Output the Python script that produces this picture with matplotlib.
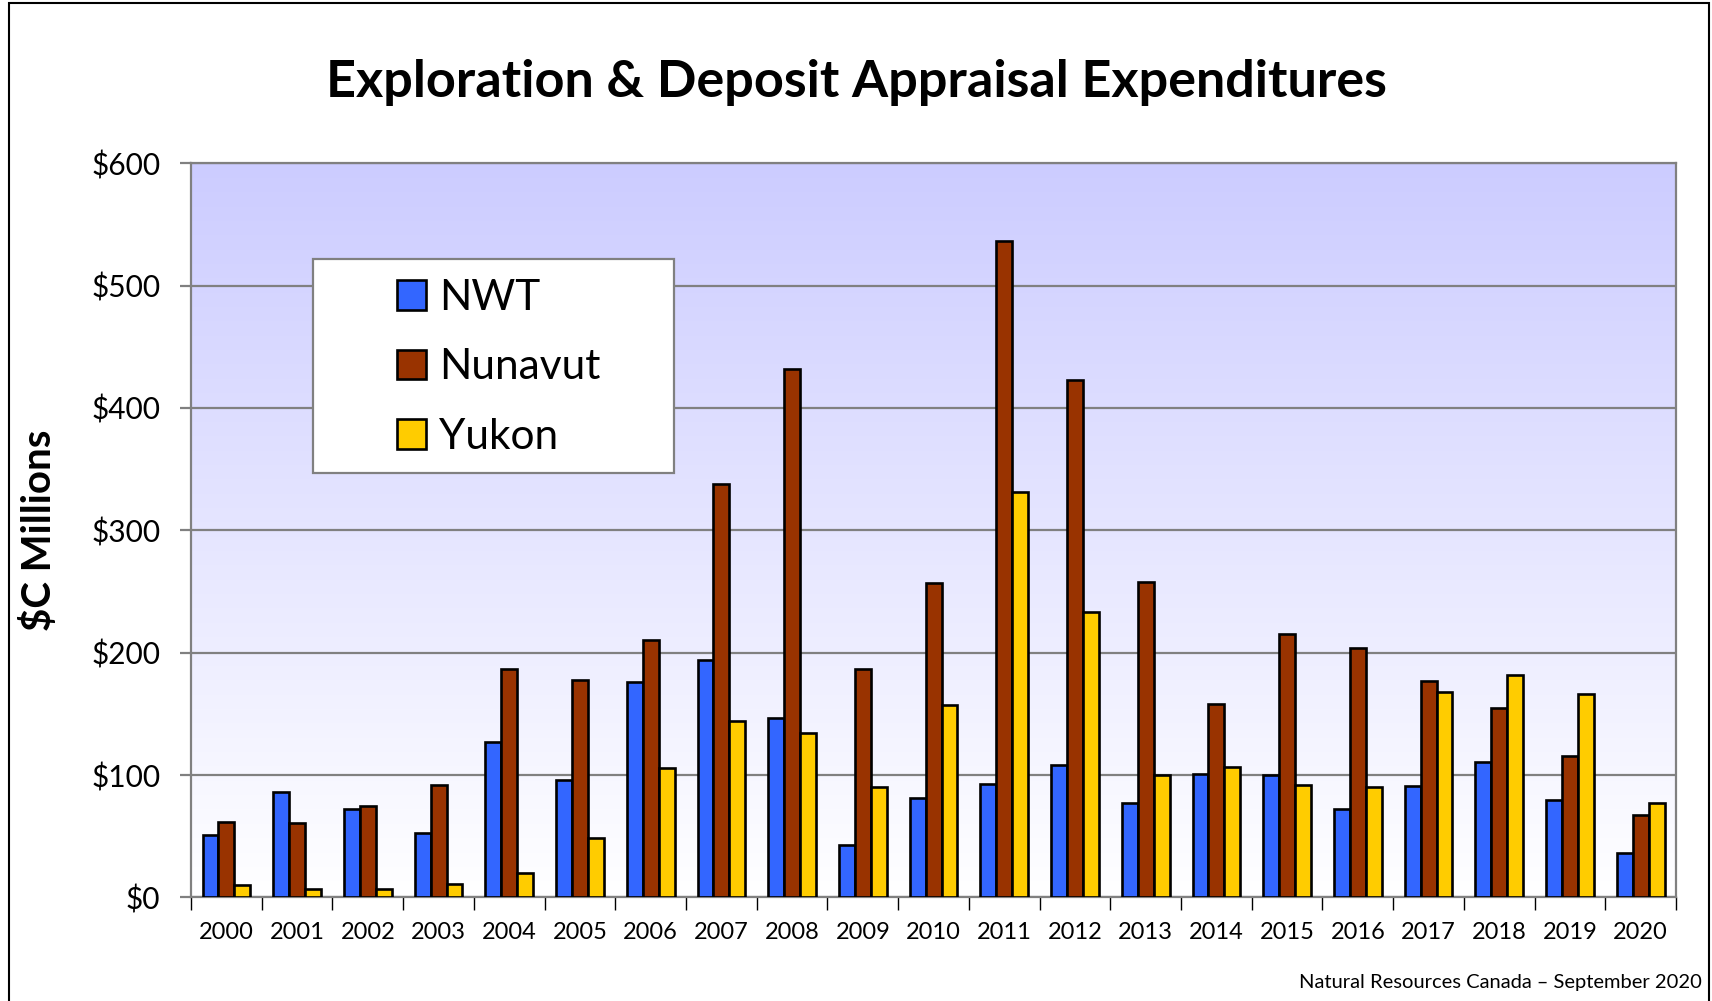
import matplotlib.pyplot as plt
import numpy as np
from matplotlib.patches import Rectangle, Patch

plt.rcParams['font.family'] = ['Lato', 'DejaVu Sans']

years = [str(y) for y in range(2000, 2021)]
nwt = [51, 86, 72, 53, 127, 96, 176, 194, 147, 43, 81, 93, 108, 77, 101, 100, 72, 91, 111, 80, 36]
nunavut = [62, 61, 75, 92, 187, 178, 210, 338, 432, 187, 257, 536, 423, 258, 158, 215, 204, 177, 155, 116, 67]
yukon = [10, 7, 7, 11, 20, 49, 106, 144, 134, 90, 157, 331, 233, 100, 107, 92, 90, 168, 182, 166, 77]

series = [('NWT', nwt, '#3366FF'), ('Nunavut', nunavut, '#993300'), ('Yukon', yukon, '#FFCC00')]
y_ticks = [0, 100, 200, 300, 400, 500, 600]

fig = plt.figure(figsize=(17.12, 10.01), dpi=100)
ax = fig.add_axes([0.1116, 0.1034, 0.979 - 0.1116, 0.837 - 0.1034])

x = np.arange(len(years))
width = 0.225

# gradient background: lavender at top fading to white
grad = np.linspace(0, 1, 256).reshape(-1, 1)
top = np.array([0xCC, 0xCC, 0xFF]) / 255
bot = np.array([1.0, 1.0, 1.0])
img = bot + (top - bot) * grad[:, :, None]
ax.imshow(img, extent=(-0.5, len(years) - 0.5, 0, 600), origin='lower',
          aspect='auto', zorder=0)

for i, (name, vals, col) in enumerate(series):
    ax.bar(x + (i - 1) * width, vals, width, color=col, edgecolor='black',
           linewidth=1.9, zorder=3, label=name)

ax.set_xlim(-0.5, len(years) - 0.5)
ax.set_ylim(0, 600)
ax.set_yticks(y_ticks)
ax.set_yticklabels([f'${v}' for v in y_ticks], fontsize=21.5)
ax.yaxis.grid(True, color='#808080', linewidth=1.6, zorder=1)
ax.set_axisbelow(True)

ax.set_xticks(x)
ax.set_xticklabels(years, fontsize=17)
ax.tick_params(axis='x', length=0, pad=18)
ax.set_xticks(np.arange(-0.5, len(years)), minor=True)
ax.tick_params(axis='x', which='minor', length=9, width=1, color='black')
ax.tick_params(axis='y', length=8, width=1.6, color='#808080', pad=14)

for s in ax.spines.values():
    s.set_color('#808080')
    s.set_linewidth(1.6)

ax.set_ylabel('$C Millions', fontsize=29, fontweight='bold', labelpad=24)

fig.text(0.5, 0.918, 'Exploration & Deposit Appraisal Expenditures',
         fontsize=37.5, fontweight='bold', ha='center', va='center')
fig.text(0.994, 0.018, 'Natural Resources Canada \u2013 September 2020',
         fontsize=14.5, ha='right', va='center')

# legend box
ax.add_patch(Rectangle((0.082, 0.578), 0.243, 0.291, transform=ax.transAxes,
                       facecolor='white', edgecolor='#808080', linewidth=1.6, zorder=5))
handles = [Patch(facecolor=c, edgecolor='black', linewidth=1.9, label=n) for n, v, c in series]
leg = ax.legend(handles=handles, loc='upper left', bbox_to_anchor=(0.127, 0.866),
                frameon=False, fontsize=30.5, handlelength=0.7, handleheight=0.7,
                handletextpad=0.3, labelspacing=0.75, borderaxespad=0)
leg.set_zorder(6)

# outer border
fig.patches.append(Rectangle((9 / 1712, -0.01), 1700 / 1712, 1.007, transform=fig.transFigure,
                             fill=False, edgecolor='black', linewidth=1.5))

fig.savefig('out.png', dpi=100)
